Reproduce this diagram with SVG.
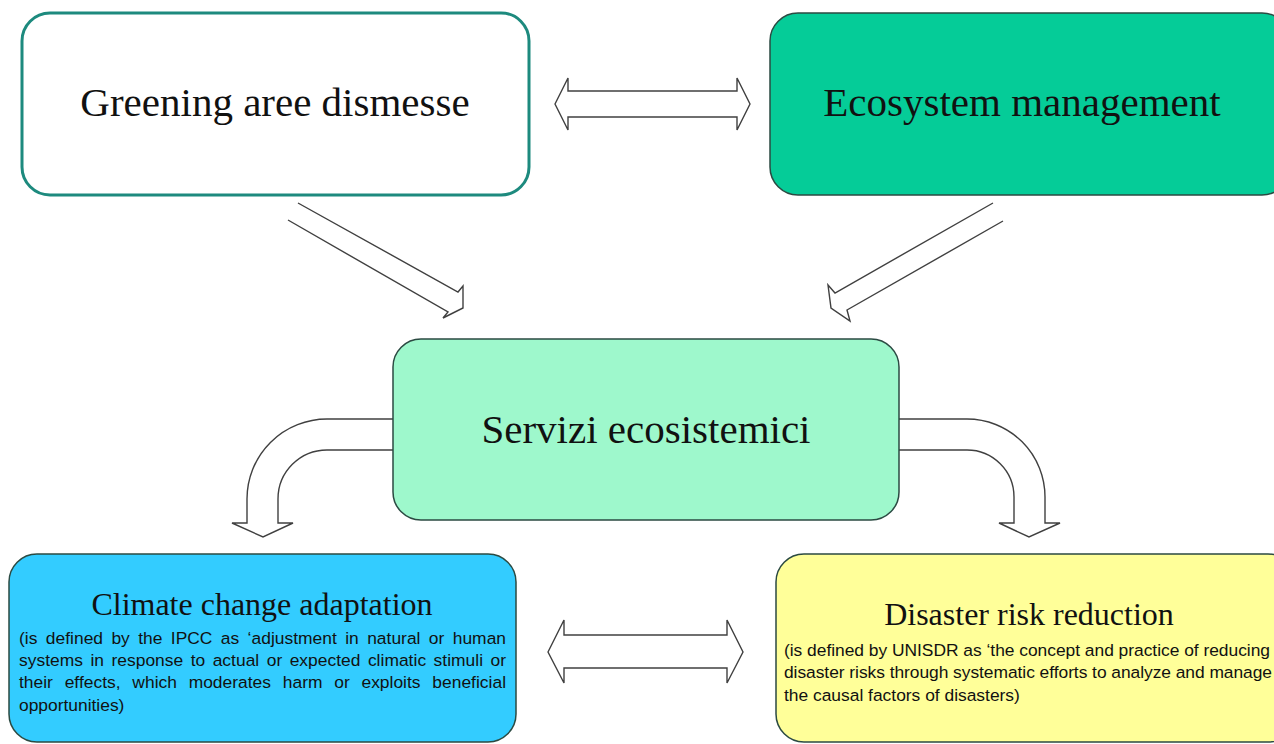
<svg xmlns="http://www.w3.org/2000/svg" width="1274" height="744" viewBox="0 0 1274 744">
<style>
.arrow{fill:#ffffff;stroke:#404040;stroke-width:1.4;stroke-linejoin:miter}
.box{stroke:#2b4a42;stroke-width:1.5}
.title{font-family:"Liberation Serif","Times New Roman",serif;fill:#111;text-anchor:middle}
.body{font-family:"Liberation Sans",Arial,sans-serif;font-size:17.4px;fill:#111}
</style>
<rect x="0" y="0" width="1274" height="744" fill="#ffffff"/>
<g id="connectors">
<path class="arrow" d="M555,104 L568,78 L568,91 L737,91 L737,78 L750,104 L737,130 L737,117 L568,117 L568,130 Z"/>
<path class="arrow" d="M548,652 L564,620 L564,635 L727,635 L727,620 L743,652 L727,683 L727,668 L564,668 L564,683 Z"/>
<path class="arrow" d="M298,203 L458,292 L463,286 L463,308 L443,318 L448,312 L288,220"/>
<path class="arrow" d="M993,203 L835,293 L828,285 L831,308 L850,321 L847,310 L1003,221"/>
<path class="arrow" d="M395,419 L327,419 A80,80 0 0 0 247,499 L247,523 L232,523 L263,537 L293,523 L278,523 L278,499 A49,49 0 0 1 327,450 L395,450 Z"/>
<path class="arrow" d="M897,419 L967,419 A78,78 0 0 1 1045,497 L1045,523 L1060,523 L1029,537 L999,523 L1014,523 L1014,497 A47,47 0 0 0 967,450 L897,450 Z"/>
</g>
<g id="node-greening">
<rect x="22" y="13" width="507" height="182" rx="28" fill="#ffffff" stroke="#1d8a7e" stroke-width="3"/>
<text class="title" x="275" y="116" font-size="41">Greening aree dismesse</text>
</g>
<g id="node-ecosystem">
<rect class="box" x="770" y="13" width="520" height="182" rx="28" fill="#05cc98"/>
<text class="title" x="1022" y="116" font-size="41">Ecosystem management</text>
</g>
<g id="node-servizi">
<rect class="box" x="393" y="339" width="506" height="181" rx="28" fill="#9ef8cc"/>
<text class="title" x="646" y="443" font-size="41">Servizi ecosistemici</text>
</g>
<g id="node-climate">
<rect class="box" x="9" y="554" width="507" height="188" rx="28" fill="#33ccff"/>
<text class="title" x="262" y="615" font-size="32">Climate change adaptation</text>
<text class="body" x="19" y="644" word-spacing="3.5" textLength="487" lengthAdjust="spacing">(is defined by the IPCC as ‘adjustment in natural or human</text>
<text class="body" x="19" y="666" word-spacing="2.6" textLength="487" lengthAdjust="spacing">systems in response to actual or expected climatic stimuli or</text>
<text class="body" x="19" y="688" word-spacing="6.9" textLength="487" lengthAdjust="spacing">their effects, which moderates harm or exploits beneficial</text>
<text class="body" x="19" y="711">opportunities)</text>
</g>
<g id="node-disaster">
<rect class="box" x="776" y="554" width="520" height="188" rx="28" fill="#ffff99"/>
<text class="title" x="1029" y="625" font-size="32">Disaster risk reduction</text>
<text class="body" x="784" y="656" textLength="486" lengthAdjust="spacing">(is defined by UNISDR as ‘the concept and practice of reducing</text>
<text class="body" x="784" y="678" textLength="488" lengthAdjust="spacing">disaster risks through systematic efforts to analyze and manage</text>
<text class="body" x="784" y="701">the causal factors of disasters)</text>
</g>
</svg>
